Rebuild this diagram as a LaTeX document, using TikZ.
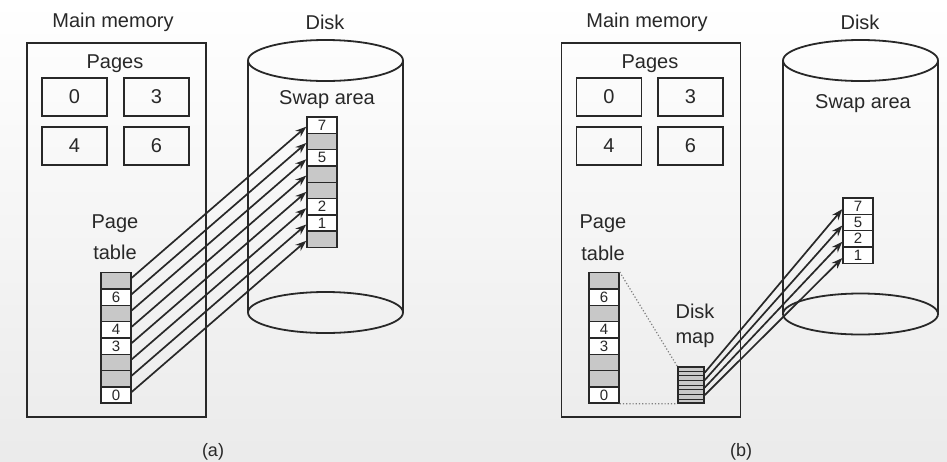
\documentclass[tikz,border=0pt]{standalone}
\usepackage{fontspec}
\setmainfont{Liberation Sans}
\usetikzlibrary{arrows.meta,calc}
\definecolor{cellgray}{RGB}{200,200,200}
\definecolor{ink}{RGB}{40,40,40}
\begin{document}
\begin{tikzpicture}[x=1pt,y=-1pt,
  every node/.style={text=ink},
  lbl/.style={font=\fontsize{20}{22}\selectfont, inner sep=0pt},
  captext/.style={font=\fontsize{18}{21}\selectfont, inner sep=0pt},
  membox/.style={draw=ink, line width=1.8pt, rectangle, inner sep=0pt, minimum width=179pt, minimum height=374pt},
  pagebox/.style={draw=ink, line width=1.8pt, rectangle, inner sep=0pt, minimum width=65pt, minimum height=38pt, font=\fontsize{20}{22}\selectfont},
  cell/.style={draw=ink, line width=1.4pt, rectangle, inner sep=0pt, minimum width=30pt, minimum height=16.3pt, font=\fontsize{15}{15}\selectfont},
  disk/.style={draw=ink, line width=1.8pt},
  arr/.style={draw=ink, line width=1.7pt, -{Stealth[length=11pt,width=8pt]}},
  dots/.style={draw=gray, line width=1.2pt, dotted}
]
\useasboundingbox (0,0) rectangle (947,461);
\shade[top color=white, bottom color=black!8] (0,0) rectangle (947,461);

% ---------------- (a) ----------------
\node[lbl] (mma-t) at (113,22) {Main memory};
\node[membox] (mma) at (116.5,230) {};
\node[lbl] (pga) at (115,64) {Pages};
\node[pagebox] (pa0) at (74.5,97) {0};
\node[pagebox] (pa3) at (156.5,97) {3};
\node[pagebox] (pa4) at (74.5,146) {4};
\node[pagebox] (pa6) at (156.5,146) {6};
\node[lbl] (pta1) at (115,224) {Page};
\node[lbl] (pta2) at (115,252) {table};

% disk (a)
\node[lbl] (dka-t) at (325,22) {Disk};
\draw[disk] (325.5,60.5) ellipse [x radius=77.5, y radius=20.5];
\draw[disk] (248,60.5) -- (248,312.5);
\draw[disk] (403,60.5) -- (403,312.5);
\draw[disk] (325.5,312.5) ellipse [x radius=77.5, y radius=20.5];
\node[lbl] (swa) at (327,100) {Swap area};

% page table (a)
\foreach \lab/\fil [count=\i from 0] in {{}/cellgray,6/white,{}/cellgray,4/white,3/white,{}/cellgray,{}/cellgray,0/white}
  \node[cell, fill=\fil] (pta-\i) at (116,{280.85+16.3*\i}) {\lab};
% swap area (a)
\foreach \lab/\fil [count=\i from 0] in {7/white,{}/cellgray,5/white,{}/cellgray,{}/cellgray,2/white,1/white,{}/cellgray}
  \node[cell, fill=\fil] (sa-\i) at (322,{125.15+16.3*\i}) {\lab};
\foreach \i in {0,...,7}
  \draw[arr] ([yshift=3pt]pta-\i.east) -- ([yshift=-1.5pt]sa-\i.west);

\node[captext] (capa) at (213,452) {(a)};

% ---------------- (b) ----------------
\node[lbl] (mmb-t) at (647,22) {Main memory};
\node[membox] (mmb) at (651,230) {};
\node[lbl] (pgb) at (650,64) {Pages};
\node[pagebox] (pb0) at (609,97) {0};
\node[pagebox] (pb3) at (690.5,97) {3};
\node[pagebox] (pb4) at (609,146) {4};
\node[pagebox] (pb6) at (690.5,146) {6};
\node[lbl] (ptb1) at (603,224) {Page};
\node[lbl] (ptb2) at (603,253) {table};

% disk (b)
\node[lbl] (dkb-t) at (860,22) {Disk};
\draw[disk] (860.5,60.5) ellipse [x radius=77.5, y radius=20.5];
\draw[disk] (783,60.5) -- (783,314);
\draw[disk] (938,60.5) -- (938,314);
\draw[disk] (860.5,314) ellipse [x radius=77.5, y radius=20.5];
\node[lbl] (swb) at (863,104) {Swap area};

% page table (b)
\foreach \lab/\fil [count=\i from 0] in {{}/cellgray,6/white,{}/cellgray,4/white,3/white,{}/cellgray,{}/cellgray,0/white}
  \node[cell, fill=\fil] (ptb-\i) at (604,{280.85+16.3*\i}) {\lab};
% swap area (b)
\foreach \lab [count=\i from 0] in {7,5,2,1}
  \node[cell, fill=white] (sb-\i) at (858,{206.15+16.3*\i}) {\lab};

% disk map
\node[lbl] (dm1) at (695,311) {Disk};
\node[lbl] (dm2) at (695,340) {map};
\node[draw=ink, line width=1.4pt, fill=cellgray, rectangle, inner sep=0pt, minimum width=26pt, minimum height=36pt] (dm) at (691,385) {};
\foreach \k in {1,...,7}
  \draw[ink, line width=0.8pt] ($(dm.north west)!\k/8!(dm.south west)$) -- ($(dm.north east)!\k/8!(dm.south east)$);
\draw[dots] (ptb-0.north east) -- (dm.north west);
\draw[dots] (ptb-7.south east) -- (dm.south west);

\foreach \f [count=\i from 0] in {0.17,0.37,0.57,0.77}
  \coordinate (dmo-\i) at ($(dm.north east)!\f!(dm.south east)$);
\foreach \i in {0,...,3}
  \draw[arr] (dmo-\i) -- ([yshift=-3pt]sb-\i.west);

\node[captext] (capb) at (741,452) {(b)};
\end{tikzpicture}
\end{document}
